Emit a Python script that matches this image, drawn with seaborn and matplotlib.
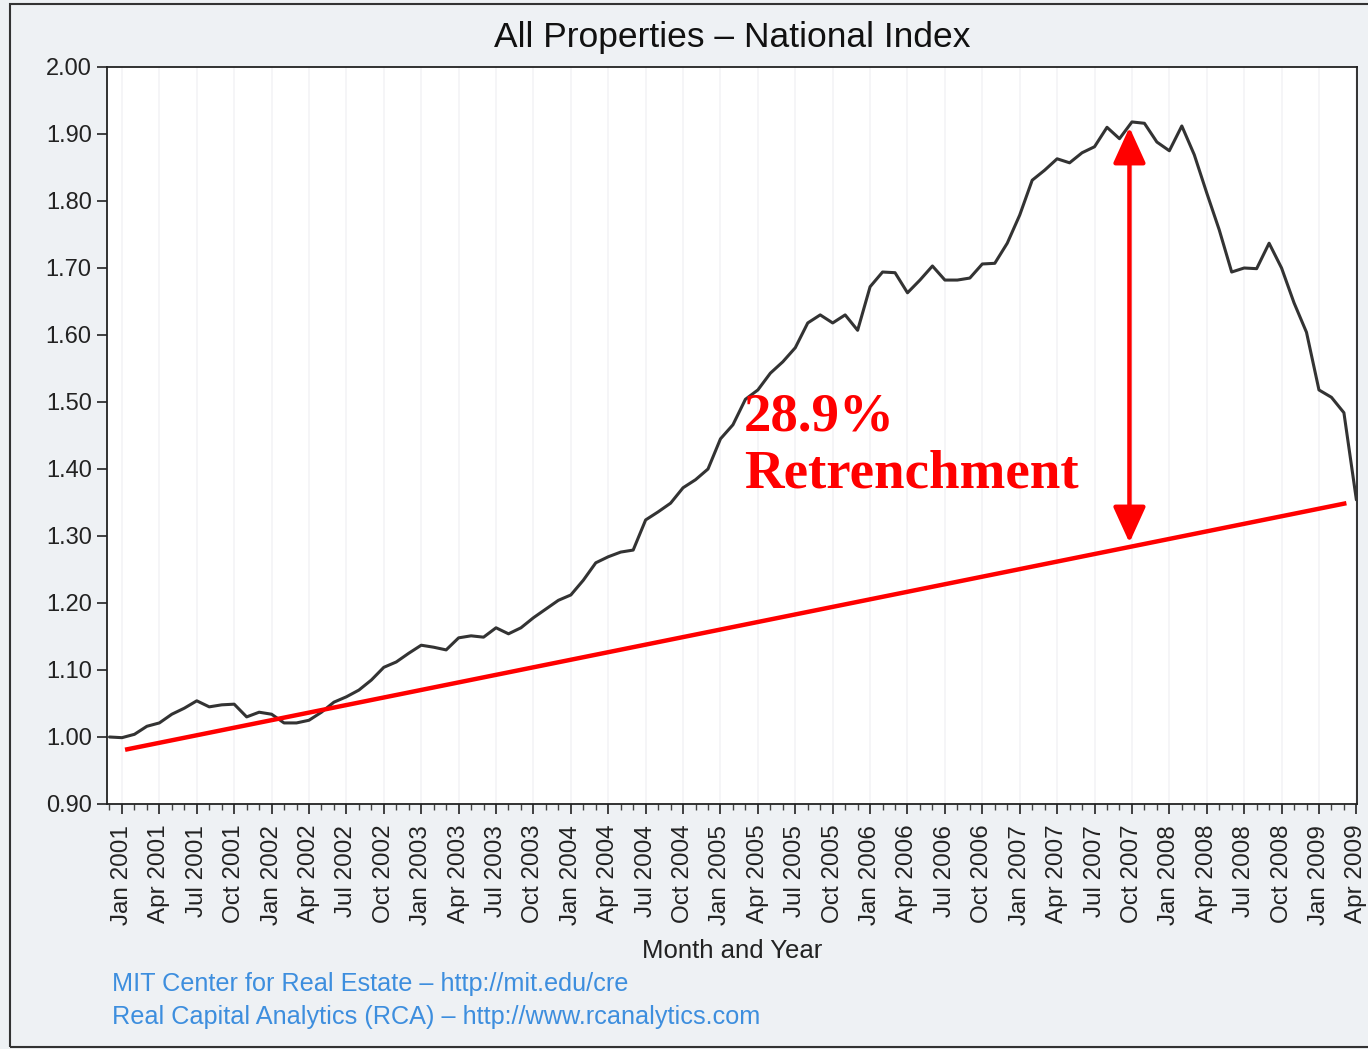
import numpy as np
import pandas as pd
import matplotlib
matplotlib.use("Agg")
import matplotlib.pyplot as plt
from matplotlib.patches import Rectangle
import seaborn as sns

# ---------------- data ----------------
# monthly index values, Dec 2000 .. Apr 2009
start_month = "2000-12"
index_values = [
    1.000,                                                  # Dec 2000
    0.999, 1.004, 1.016, 1.021, 1.034, 1.043, 1.054, 1.045, 1.048, 1.049, 1.030, 1.037,  # 2001
    1.034, 1.021, 1.021, 1.025, 1.037, 1.052, 1.060, 1.070, 1.085, 1.104, 1.112, 1.125,  # 2002
    1.137, 1.134, 1.130, 1.148, 1.151, 1.149, 1.163, 1.154, 1.163, 1.178, 1.191, 1.204,  # 2003
    1.212, 1.234, 1.260, 1.269, 1.276, 1.279, 1.324, 1.336, 1.349, 1.372, 1.384, 1.400,  # 2004
    1.445, 1.466, 1.504, 1.518, 1.543, 1.560, 1.581, 1.618, 1.630, 1.618, 1.630, 1.607,  # 2005
    1.672, 1.694, 1.693, 1.663, 1.682, 1.703, 1.682, 1.682, 1.685, 1.706, 1.707, 1.737,  # 2006
    1.779, 1.831, 1.846, 1.863, 1.857, 1.872, 1.881, 1.910, 1.893, 1.918, 1.916, 1.888,  # 2007
    1.875, 1.912, 1.869, 1.812, 1.757, 1.694, 1.700, 1.699, 1.737, 1.700, 1.648, 1.604,  # 2008
    1.518, 1.507, 1.484, 1.354,                                                        # 2009
]
tick_labels = [f"{m} {y}" for y in range(2001, 2010) for m in ["Jan", "Apr", "Jul", "Oct"]][:34]
y_ticks = [0.90, 1.00, 1.10, 1.20, 1.30, 1.40, 1.50, 1.60, 1.70, 1.80, 1.90, 2.00]

# trend line (month index, value) and retrenchment arrow
trend_x = [0.25, 98.2]
trend_y = [0.981, 1.349]
arrow_x = 80.8
arrow_top = 1.910
arrow_bottom = 1.290

title = "All Properties \u2013 National Index"
xlabel = "Month and Year"
annot_pct = "28.9%"
annot_word = "Retrenchment"
credit1 = "MIT Center for Real Estate \u2013 http://mit.edu/cre"
credit2 = "Real Capital Analytics (RCA) \u2013 http://www.rcanalytics.com"

# month index: 0 = Jan 2001
n = len(index_values)
months = pd.period_range(start_month, periods=n, freq="M")
month_idx = np.arange(-1, n - 1)
df = pd.DataFrame({"month": month_idx, "date": months.astype(str), "index": index_values})

# ---------------- style ----------------
sns.set_theme(style="white")
plt.rcParams["font.family"] = ["Liberation Sans", "DejaVu Sans"]

fig = plt.figure(figsize=(13.68, 10.49), dpi=100)
bg = "#eef1f4"
fig.patch.set_facecolor(bg)
W, H = 1368, 1049
ax = fig.add_axes([107 / W, 1 - 804 / H, (1357 - 107) / W, (804 - 67) / H])
ax.set_facecolor("white")

# faint vertical guides at quarterly ticks
q_pos = np.arange(0, 99 + 1, 3)
for q in q_pos:
    ax.axvline(q, color="#f3f4f6", lw=1.2, zorder=0)

sns.lineplot(data=df, x="month", y="index", ax=ax, color="#333333", lw=2.2, zorder=3)

ax.plot(trend_x, trend_y, color="#ff0000", lw=3.2, solid_capstyle="butt", zorder=4)
ax.annotate("", xy=(arrow_x, arrow_top), xytext=(arrow_x, arrow_bottom),
            arrowprops=dict(arrowstyle="<|-|>,head_length=0.55,head_width=0.25",
                            color="#ff0000", lw=3.2, mutation_scale=40,
                            shrinkA=0, shrinkB=0), zorder=5)

ax.text(49.9, 1.458, annot_pct, color="#ff0000", fontsize=39.5, fontweight="bold",
        family=["Liberation Serif", "DejaVu Serif"], va="baseline", ha="left", zorder=6)
ax.text(49.9, 1.373, annot_word, color="#ff0000", fontsize=39.5, fontweight="bold",
        family=["Liberation Serif", "DejaVu Serif"], va="baseline", ha="left", zorder=6)

ax.set_xlim(-1.2, 99.05)
ax.set_ylim(0.90, 2.00)
ax.set_yticks(y_ticks)
ax.set_yticklabels([f"{v:.2f}" for v in y_ticks], fontsize=17, color="#222222")
ax.set_xticks(q_pos)
ax.set_xticklabels(tick_labels, rotation=90, fontsize=17.5, color="#222222")
ax.set_xticks(np.arange(-1, 100), minor=True)
ax.tick_params(axis="both", which="major", direction="out", length=7, width=1.2,
               color="#222222", bottom=True, left=True, pad=4)
ax.tick_params(axis="x", which="major", pad=8)
ax.tick_params(axis="x", which="minor", direction="out", length=4, width=1.0,
               color="#444444", bottom=True)
ax.set_xlabel(xlabel, fontsize=18.5, color="#222222", labelpad=10)
ax.set_ylabel("")
for s in ax.spines.values():
    s.set_color("#222222")
    s.set_linewidth(1.3)

fig.text(732 / W, 1 - 38 / H, title, ha="center", va="center", fontsize=25.5, color="#111111")
fig.text(112 / W, 1 - 984 / H, credit1, ha="left", va="center", fontsize=18.2, color="#3d8ede")
fig.text(112 / W, 1 - 1017 / H, credit2, ha="left", va="center", fontsize=18.2, color="#3d8ede")

# outer frame of the picture
fig.add_artist(Rectangle((10 / W, 2 / H), 1.0, 1 - 6 / H, transform=fig.transFigure,
                         fill=False, edgecolor="#333333", lw=1.5))

fig.savefig("out.png", dpi=100, facecolor=fig.get_facecolor())
